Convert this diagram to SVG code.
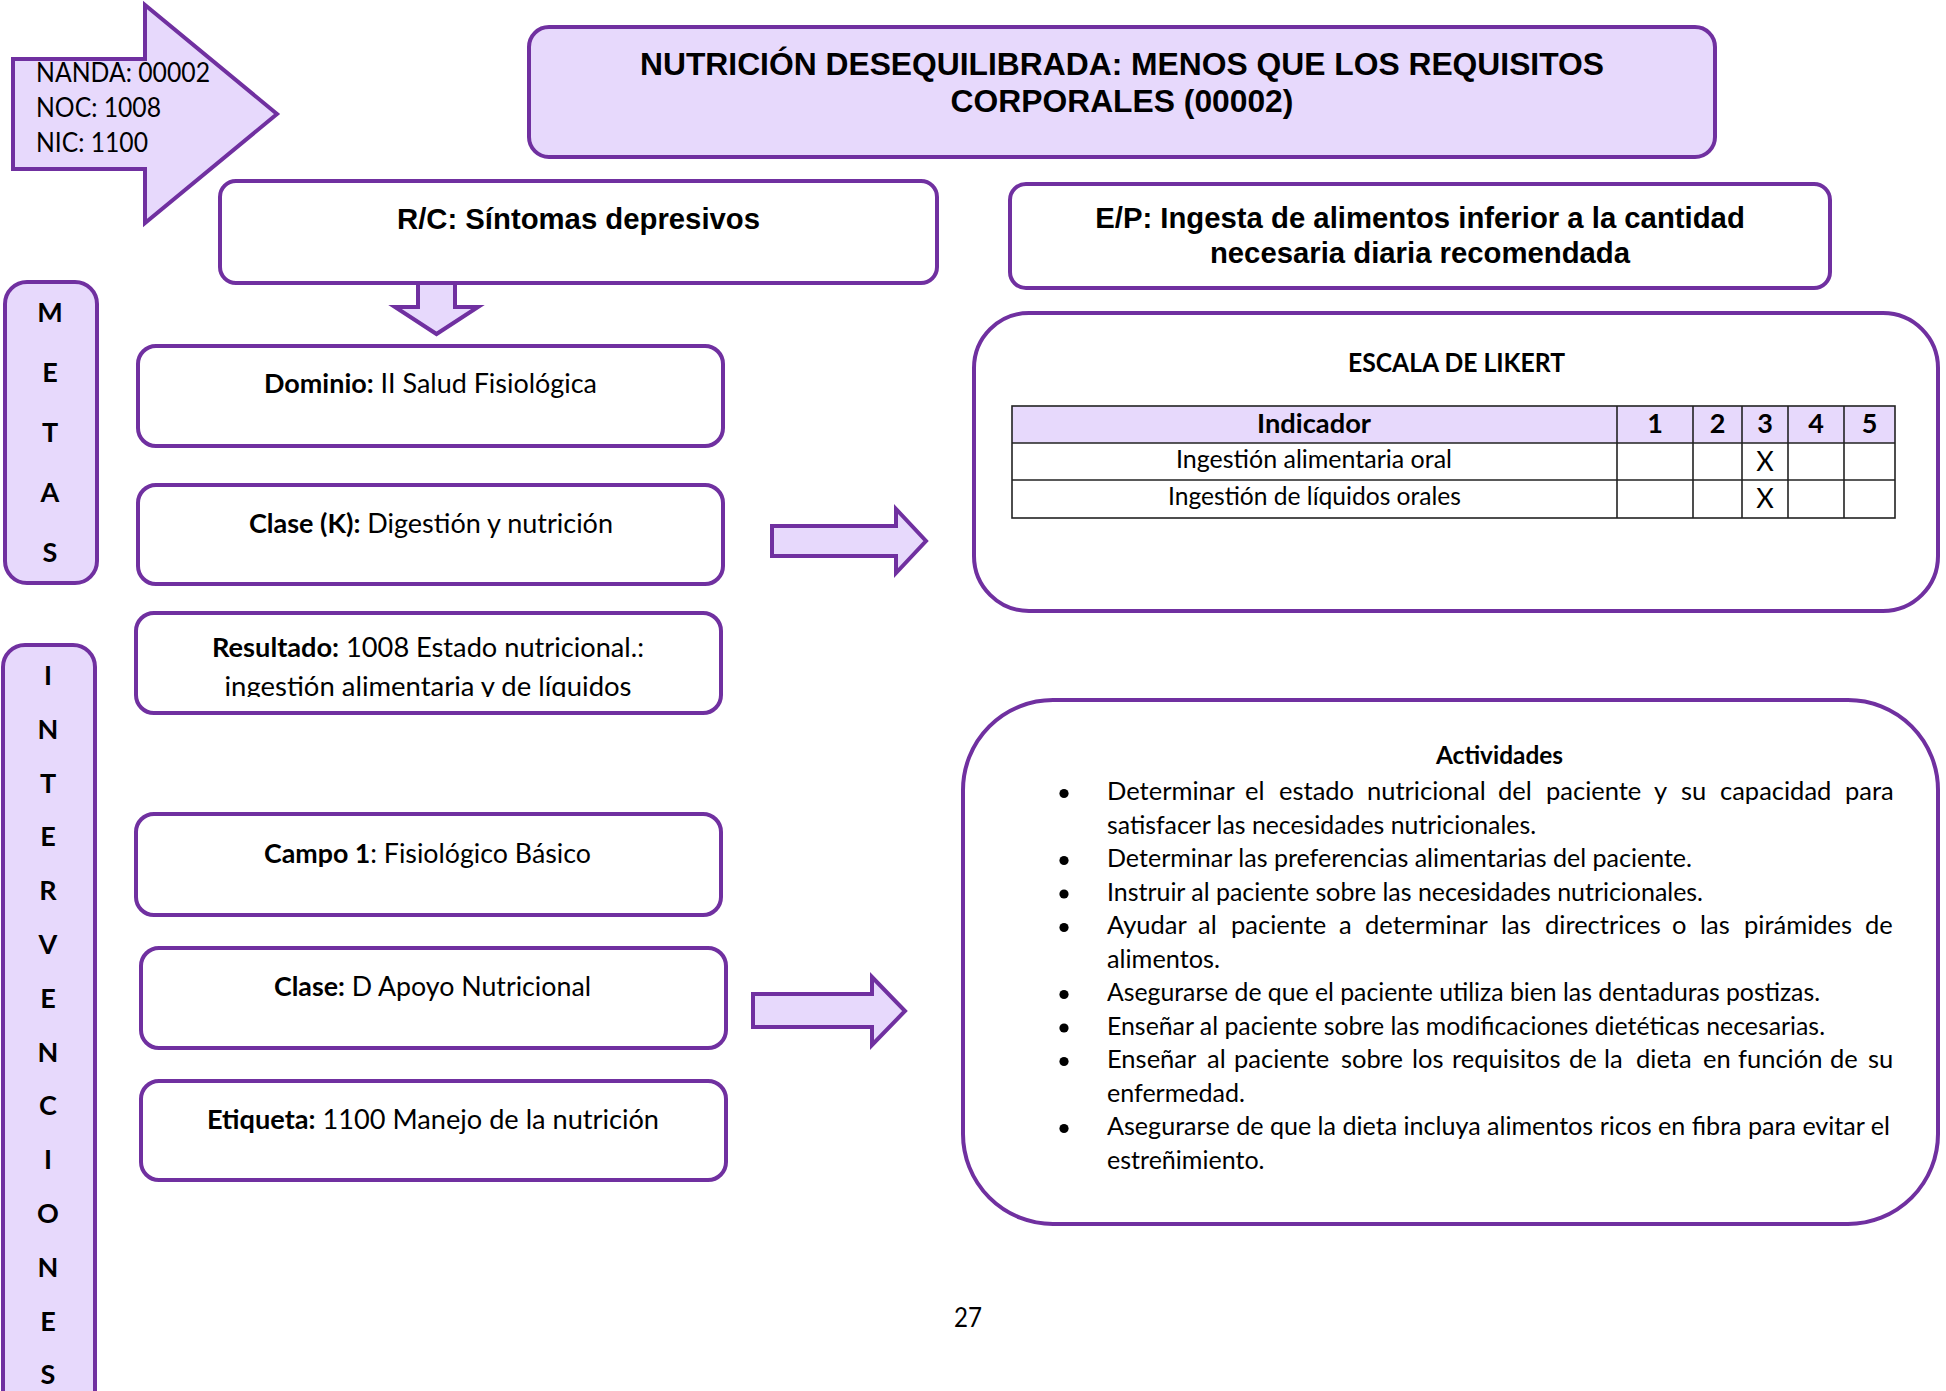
<svg xmlns="http://www.w3.org/2000/svg" width="1946" height="1391" viewBox="0 0 1946 1391">
<style>
.box{fill:#ffffff;stroke:#7030A0;stroke-width:4}
.lav{fill:#E7D9FC;stroke:#7030A0;stroke-width:4;stroke-linejoin:miter}
.c{font-family:Lato,"Open Sans",sans-serif;fill:#000;font-size:27px}
.s{font-size:25.5px}
.t{font-size:25px}
.a{font-family:"Liberation Sans",Arial,sans-serif;font-weight:bold;fill:#000}
.b{font-weight:bold}
.grid{stroke:#222;stroke-width:1.6;fill:none}
</style>
<defs>
<clipPath id="resClip"><rect x="136" y="613" width="586" height="84"/></clipPath>
</defs>
<rect width="1946" height="1391" fill="#ffffff"/>

<g id="connectors">
<polygon class="lav" points="13,59 145,59 145,5 277,114 145,223 145,169 13,169"/>
<polygon class="lav" points="418,283 455,283 455,307 478,307 436.5,334 395,307 418,307"/>
<polygon class="lav" points="772,526 896,526 896,509 926,541 896,573 896,556 772,556"/>
<polygon class="lav" points="753,994 872,994 872,977 905,1011 872,1045 872,1027 753,1027"/>
</g>

<g id="codes">
<text class="c" x="36" y="82" textLength="174" lengthAdjust="spacingAndGlyphs">NANDA: 00002</text>
<text class="c" x="36" y="117" textLength="125" lengthAdjust="spacingAndGlyphs">NOC: 1008</text>
<text class="c" x="36" y="152" textLength="112" lengthAdjust="spacingAndGlyphs">NIC: 1100</text>
</g>

<g id="title">
<rect class="lav" x="529" y="27" width="1186" height="130" rx="20"/>
<text class="a" x="1122" y="75" font-size="31.8" text-anchor="middle">NUTRICIÓN DESEQUILIBRADA: MENOS QUE LOS REQUISITOS</text>
<text class="a" x="1122" y="112" font-size="31.8" text-anchor="middle">CORPORALES (00002)</text>
</g>

<g id="rc">
<rect class="box" x="220" y="181" width="717" height="102" rx="16"/>
<text class="a" x="578.5" y="229" font-size="29.3" text-anchor="middle">R/C: Síntomas depresivos</text>
</g>

<g id="ep">
<rect class="box" x="1010" y="184" width="820" height="104" rx="16"/>
<text class="a" x="1420" y="228" font-size="29.3" text-anchor="middle">E/P: Ingesta de alimentos inferior a la cantidad</text>
<text class="a" x="1420" y="263" font-size="29.3" text-anchor="middle">necesaria diaria recomendada</text>
</g>

<g id="metas">
<rect class="lav" x="5" y="282" width="92" height="301" rx="22"/>
<g class="c b" text-anchor="middle">
<text x="50" y="322">M</text>
<text x="50" y="382">E</text>
<text x="50" y="442">T</text>
<text x="50" y="502">A</text>
<text x="50" y="562">S</text>
</g>
</g>

<g id="intervenciones">
<rect class="lav" x="3" y="645" width="92" height="800" rx="22"/>
<g class="c b" text-anchor="middle">
<text x="48" y="685">I</text>
<text x="48" y="739">N</text>
<text x="48" y="793">T</text>
<text x="48" y="846">E</text>
<text x="48" y="900">R</text>
<text x="48" y="954">V</text>
<text x="48" y="1008">E</text>
<text x="48" y="1062">N</text>
<text x="48" y="1115">C</text>
<text x="48" y="1169">I</text>
<text x="48" y="1223">O</text>
<text x="48" y="1277">N</text>
<text x="48" y="1331">E</text>
<text x="48" y="1384">S</text>
</g>
</g>

<g id="dominio">
<rect class="box" x="138" y="346" width="585" height="100" rx="18"/>
<text class="c" x="264" y="393" textLength="333" lengthAdjust="spacingAndGlyphs"><tspan class="b">Dominio:</tspan> II Salud Fisiológica</text>
</g>

<g id="clase-k">
<rect class="box" x="138" y="485" width="585" height="99" rx="18"/>
<text class="c" x="249" y="533" textLength="364" lengthAdjust="spacingAndGlyphs"><tspan class="b">Clase (K):</tspan> Digestión y nutrición</text>
</g>

<g id="resultado">
<rect class="box" x="136" y="613" width="585" height="100" rx="18"/>
<text class="c" x="212" y="657" textLength="432" lengthAdjust="spacingAndGlyphs"><tspan class="b">Resultado:</tspan> 1008 Estado nutricional.:</text>
<text class="c" x="224.5" y="695.5" textLength="407" lengthAdjust="spacingAndGlyphs" clip-path="url(#resClip)">ingestión alimentaria y de líquidos</text>
</g>

<g id="campo">
<rect class="box" x="136" y="814" width="585" height="101" rx="18"/>
<text class="c" x="264" y="863" textLength="327" lengthAdjust="spacingAndGlyphs"><tspan class="b">Campo 1</tspan>: Fisiológico Básico</text>
</g>

<g id="clase-d">
<rect class="box" x="141" y="948" width="585" height="100" rx="18"/>
<text class="c" x="274" y="996" textLength="317" lengthAdjust="spacingAndGlyphs"><tspan class="b">Clase:</tspan> D Apoyo Nutricional</text>
</g>

<g id="etiqueta">
<rect class="box" x="141" y="1081" width="585" height="99" rx="18"/>
<text class="c" x="207" y="1129" textLength="452" lengthAdjust="spacingAndGlyphs"><tspan class="b">Etiqueta:</tspan> 1100 Manejo de la nutrición</text>
</g>

<g id="likert">
<rect class="box" x="974" y="313" width="964" height="298" rx="55"/>
<text class="c b" x="1348" y="372" textLength="217" lengthAdjust="spacingAndGlyphs">ESCALA DE LIKERT</text>
<rect x="1012" y="406" width="883" height="37" fill="#E7D9FC"/>
<rect class="grid" x="1012" y="406" width="883" height="112"/>
<line class="grid" x1="1012" y1="443" x2="1895" y2="443"/>
<line class="grid" x1="1012" y1="480" x2="1895" y2="480"/>
<line class="grid" x1="1617" y1="406" x2="1617" y2="518"/>
<line class="grid" x1="1693" y1="406" x2="1693" y2="518"/>
<line class="grid" x1="1742" y1="406" x2="1742" y2="518"/>
<line class="grid" x1="1788" y1="406" x2="1788" y2="518"/>
<line class="grid" x1="1844" y1="406" x2="1844" y2="518"/>
<text class="c b" x="1257" y="433" textLength="114" lengthAdjust="spacingAndGlyphs">Indicador</text>
<g class="c b" text-anchor="middle">
<text x="1655" y="433">1</text>
<text x="1717.5" y="433">2</text>
<text x="1765" y="433">3</text>
<text x="1816" y="433">4</text>
<text x="1869.5" y="433">5</text>
</g>
<text class="c t" x="1176" y="468" textLength="276" lengthAdjust="spacingAndGlyphs">Ingestión alimentaria oral</text>
<text class="c t" x="1168" y="505" textLength="293" lengthAdjust="spacingAndGlyphs">Ingestión de líquidos orales</text>
<text class="c" x="1765" y="471" text-anchor="middle">X</text>
<text class="c" x="1765" y="508" text-anchor="middle">X</text>
</g>

<g id="actividades">
<rect class="box" x="963" y="700" width="975" height="524" rx="90"/>
<text class="c b s" x="1436" y="764" textLength="127" lengthAdjust="spacingAndGlyphs">Actividades</text>
<g fill="#000">
<circle cx="1064" cy="793.5" r="4.6"/>
<circle cx="1064" cy="860.5" r="4.6"/>
<circle cx="1064" cy="894" r="4.6"/>
<circle cx="1064" cy="927.5" r="4.6"/>
<circle cx="1064" cy="994.5" r="4.6"/>
<circle cx="1064" cy="1028" r="4.6"/>
<circle cx="1064" cy="1061.5" r="4.6"/>
<circle cx="1064" cy="1128.5" r="4.6"/>
</g>
<text class="c s" y="800"><tspan x="1107">Determinar</tspan> <tspan x="1245">el</tspan> <tspan x="1279">estado</tspan> <tspan x="1367">nutricional</tspan> <tspan x="1498">del</tspan> <tspan x="1546">paciente</tspan> <tspan x="1654">y</tspan> <tspan x="1681">su</tspan> <tspan x="1720">capacidad</tspan> <tspan x="1845">para</tspan></text>
<text class="c s" x="1107" y="833.5" textLength="429" lengthAdjust="spacingAndGlyphs">satisfacer las necesidades nutricionales.</text>
<text class="c s" x="1107" y="867" textLength="585" lengthAdjust="spacingAndGlyphs">Determinar las preferencias alimentarias del paciente.</text>
<text class="c s" x="1107" y="900.5" textLength="596" lengthAdjust="spacingAndGlyphs">Instruir al paciente sobre las necesidades nutricionales.</text>
<text class="c s" y="934"><tspan x="1107">Ayudar</tspan> <tspan x="1198">al</tspan> <tspan x="1231">paciente</tspan> <tspan x="1339">a</tspan> <tspan x="1365">determinar</tspan> <tspan x="1501">las</tspan> <tspan x="1545">directrices</tspan> <tspan x="1672">o</tspan> <tspan x="1700">las</tspan> <tspan x="1744">pirámides</tspan> <tspan x="1865">de</tspan></text>
<text class="c s" x="1107" y="967.5" textLength="113" lengthAdjust="spacingAndGlyphs">alimentos.</text>
<text class="c s" x="1107" y="1001" textLength="713" lengthAdjust="spacingAndGlyphs">Asegurarse de que el paciente utiliza bien las dentaduras postizas.</text>
<text class="c s" x="1107" y="1034.5" textLength="718" lengthAdjust="spacingAndGlyphs">Enseñar al paciente sobre las modificaciones dietéticas necesarias.</text>
<text class="c s" y="1068"><tspan x="1107">Enseñar</tspan> <tspan x="1207">al</tspan> <tspan x="1234">paciente</tspan> <tspan x="1341">sobre</tspan> <tspan x="1412">los</tspan> <tspan x="1452">requisitos</tspan> <tspan x="1569">de</tspan> <tspan x="1604">la</tspan> <tspan x="1636">dieta</tspan> <tspan x="1703">en</tspan> <tspan x="1738">función</tspan> <tspan x="1830">de</tspan> <tspan x="1868">su</tspan></text>
<text class="c s" x="1107" y="1101.5" textLength="138" lengthAdjust="spacingAndGlyphs">enfermedad.</text>
<text class="c s" x="1107" y="1135" textLength="783" lengthAdjust="spacingAndGlyphs">Asegurarse de que la dieta incluya alimentos ricos en fibra para evitar el</text>
<text class="c s" x="1107" y="1168.5" textLength="157.5" lengthAdjust="spacingAndGlyphs">estreñimiento.</text>
</g>

<text class="c" x="954" y="1327" textLength="28" lengthAdjust="spacingAndGlyphs">27</text>
</svg>
